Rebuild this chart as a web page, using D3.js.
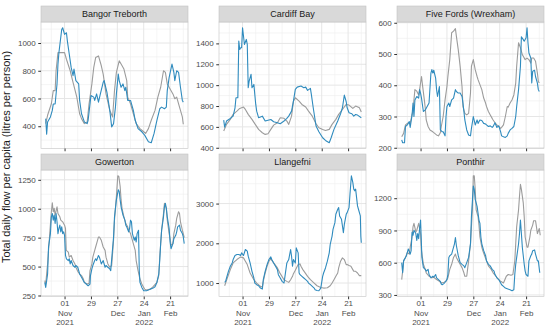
<!DOCTYPE html>
<html>
<head>
<meta charset="utf-8">
<script src="https://cdn.jsdelivr.net/npm/d3@7"></script>
<style>
  body { margin: 0; background: #fff; }
  text { font-family: "Liberation Sans", Arial, sans-serif; }
</style>
</head>
<body>
<svg id="chart" width="550" height="330"></svg>
<script>
// days are counted from 1 Nov 2021
const origin = new Date(2021, 10, 1);

const sites = ["Bangor Treborth", "Cardiff Bay", "Five Fords (Wrexham)", "Gowerton", "Llangefni", "Ponthir"];

// [day, litres per person]; blue = measured, grey = comparison series
const bangorBlue = [[-20,455],[-19,343],[-18,430],[-15,467],[-13,514],[-12,560],[-10,560],[-8,705],[-7,848],[-6,930],[-3,1098],[-2,1110],[0,1062],[2,1074],[3,1014],[5,919],[7,824],[9,764],[10,812],[12,729],[15,705],[16,586],[18,490],[21,431],[24,419],[25,443],[28,621],[31,610],[32,586],[34,633],[36,574],[38,633],[41,717],[42,729],[45,645],[48,514],[50,395],[52,419],[54,538],[55,633],[57,776],[58,729],[60,681],[62,705],[64,657],[65,681],[67,586],[70,586],[73,514],[75,443],[78,383],[82,360],[85,336],[89,288],[92,281],[95,348],[98,443],[101,526],[103,538],[106,526],[108,538],[109,657],[111,752],[114,848],[116,788],[117,729],[119,800],[121,788],[123,681],[125,586],[126,574]];
const bangorGrey = [[-20,419],[-18,479],[-14,562],[-12,657],[-10,657],[-9,800],[-7,931],[-3,931],[0,931],[2,883],[6,800],[9,717],[13,610],[16,490],[18,455],[21,419],[24,430],[26,562],[29,705],[31,824],[33,895],[36,907],[39,836],[41,776],[44,633],[48,514],[51,467],[53,657],[55,788],[58,871],[60,848],[63,812],[66,729],[67,610],[70,562],[73,490],[76,419],[80,383],[84,360],[86,348],[89,383],[92,443],[96,514],[99,610],[102,681],[105,800],[107,788],[109,705],[112,669],[115,633],[117,598],[119,610],[122,538],[125,467],[126,414]];

const cardiffBlue = [[-20,665],[-19,598],[-17,656],[-13,681],[-10,703],[-8,783],[-7,879],[-5,879],[-4,1422],[-3,1342],[-2,1358],[-1,1358],[0,1550],[2,1390],[4,1438],[5,1390],[6,975],[7,1039],[9,1103],[10,975],[12,1007],[14,815],[15,751],[17,688],[21,703],[24,656],[26,662],[30,671],[33,649],[37,640],[40,630],[44,656],[47,681],[49,703],[52,751],[54,847],[56,959],[58,981],[62,991],[65,975],[67,981],[69,950],[72,969],[73,911],[75,783],[78,608],[81,553],[85,496],[88,470],[92,448],[94,496],[97,576],[101,656],[104,726],[106,783],[108,905],[110,841],[111,783],[113,735],[116,726],[118,703],[120,719],[122,713],[126,688]];
const cardiffGrey = [[-20,560],[-17,624],[-13,672],[-10,720],[-6,751],[-3,777],[1,790],[3,767],[6,720],[10,672],[14,617],[17,576],[21,544],[24,528],[27,534],[30,576],[33,617],[37,640],[40,688],[44,682],[47,656],[49,624],[52,703],[54,847],[56,879],[60,847],[63,815],[67,790],[70,751],[74,703],[78,630],[81,592],[85,576],[88,566],[92,576],[95,624],[99,672],[102,720],[106,767],[110,815],[113,809],[117,777],[120,799],[124,783],[126,742]];

const fiveFordsBlue = [[-20,225],[-19,216],[-17,216],[-16,268],[-14,273],[-12,284],[-11,265],[-9,305],[-8,343],[-7,300],[-6,353],[-4,364],[-2,359],[-1,386],[0,375],[1,359],[3,316],[5,321],[7,332],[9,343],[11,439],[12,450],[13,439],[14,448],[16,423],[17,386],[18,364],[20,396],[21,257],[23,251],[24,251],[26,238],[27,300],[28,332],[30,343],[31,332],[33,353],[35,359],[37,386],[38,380],[40,375],[42,375],[44,364],[45,343],[47,289],[49,257],[51,241],[53,238],[54,262],[56,300],[58,273],[60,289],[61,278],[63,289],[65,287],[67,278],[69,276],[70,273],[72,268],[74,270],[76,265],[77,268],[79,280],[81,265],[83,270],[85,251],[86,238],[88,235],[90,233],[92,238],[93,246],[95,257],[97,262],[99,268],[101,300],[102,332],[104,386],[106,461],[107,555],[109,546],[110,541],[112,552],[113,584],[114,536],[115,503],[117,487],[118,407],[119,445],[121,448],[122,428],[124,407],[125,386],[126,380]];
const fiveFordsGrey = [[-20,235],[-18,246],[-16,273],[-13,280],[-11,278],[-8,321],[-6,386],[-4,381],[-2,369],[-1,386],[1,428],[2,402],[4,353],[5,327],[6,289],[8,268],[10,257],[13,251],[17,241],[19,238],[21,248],[22,268],[24,300],[26,353],[28,396],[29,428],[31,482],[33,568],[35,573],[37,581],[38,557],[40,514],[42,461],[44,396],[45,332],[47,310],[49,305],[51,310],[53,375],[54,461],[56,482],[58,450],[60,428],[61,418],[63,402],[65,386],[67,359],[69,343],[70,332],[72,316],[74,305],[76,294],[77,289],[79,280],[81,273],[83,268],[85,262],[86,265],[88,273],[90,300],[92,332],[93,330],[95,343],[97,353],[99,369],[101,407],[102,461],[104,536],[106,520],[108,498],[109,493],[111,482],[113,487],[115,482],[117,471],[118,487],[120,487],[122,477],[124,439],[125,412],[126,407]];

const gowertonBlue = [[-21,363],[-20,320],[-18,436],[-17,669],[-16,727],[-15,785],[-14,930],[-13,959],[-12,901],[-11,945],[-10,872],[-9,959],[-8,887],[-7,785],[-6,829],[-5,858],[-4,800],[-3,843],[-2,785],[-1,800],[0,770],[1,596],[2,567],[4,552],[5,567],[6,523],[7,552],[9,509],[11,494],[12,509],[14,494],[16,436],[18,407],[20,378],[21,363],[23,349],[25,334],[27,349],[27.5,422],[29,480],[30,509],[32,552],[33,567],[34,552],[36,596],[37,581],[39,523],[41,552],[43,494],[44,509],[46,494],[48,480],[49,465],[52,756],[53,930],[55,1076],[57,1163],[58,1148],[59,1076],[60,1017],[62,945],[64,901],[65,858],[66,843],[68,800],[69,829],[70,901],[71,887],[72,785],[74,727],[75,756],[76,712],[77,785],[78.5,814],[79.3,465],[80,363],[82,320],[84,291],[87,291],[89,297],[91,305],[94,314],[96,326],[98,363],[100,436],[101,552],[102,698],[103,814],[105,930],[106,1017],[107,1047],[108,1003],[109,930],[111,829],[112,712],[113,654],[115,698],[116,741],[118,770],[119,800],[120,843],[122,858],[123,814],[125,785],[126,756],[127,698]];
const gowertonGrey = [[-21,378],[-20,349],[-18,523],[-16,756],[-14,974],[-13,1052],[-12,974],[-11,1003],[-10,945],[-8,1017],[-7,959],[-5,930],[-4,901],[-2,887],[0,858],[1,829],[1.8,640],[4,625],[5,581],[7,596],[9,552],[11,523],[12,494],[14,459],[16,436],[18,422],[20,392],[21,363],[24,349],[26,355],[27,465],[29,523],[30,581],[32,640],[33,669],[35,727],[36,756],[37,756],[39,727],[41,669],[43,640],[44,581],[46,523],[48,494],[50,509],[52,727],[53,901],[55,1105],[56.5,1285],[57.6,1279],[59,1192],[60,1076],[61,1003],[63,930],[65,872],[67,843],[68,814],[70,785],[72,727],[75,640],[76,552],[78,465],[80,392],[82,349],[84,320],[85,305],[87,297],[91,305],[94,326],[98,363],[100,422],[101,581],[103,814],[105,959],[106,1047],[108,1003],[109,901],[111,785],[112,741],[113,683],[115,698],[116,785],[118,858],[119,916],[121,974],[122,959],[123,887],[125,814],[126,785],[127,750]];

const llangefniBlue = [[-19,1017],[-18,1042],[-17,1127],[-15,1295],[-13,1422],[-11,1506],[-10,1591],[-8,1692],[-6,1717],[-4,1717],[-2,1692],[-1,1760],[1,1692],[3,1844],[5,1802],[6,1675],[8,1506],[10,1295],[12,1127],[13,1000],[15,958],[17,932],[19,873],[21,848],[22,1084],[24,1295],[26,1464],[28,1591],[30,1658],[31,1591],[33,1506],[35,1422],[37,1338],[38,1211],[40,1127],[42,1042],[44,1000],[45,1169],[47,1506],[49,1591],[51,1844],[52,1675],[53,1422],[54,1591],[56,1506],[57,1886],[59,1760],[60,1253],[61,1211],[63,1169],[65,1127],[67,1084],[69,1042],[70,1000],[72,958],[74,916],[76,873],[77,831],[79,814],[81,806],[83,873],[85,1169],[86,1253],[88,1380],[90,1549],[92,1760],[93,1970],[95,2181],[96,2350],[98,2519],[99,2730],[101,2857],[102,2899],[103,2688],[105,2603],[106,2435],[107,2266],[108,2477],[109,2603],[110,2730],[111,2772],[113,2899],[114,3236],[115.5,3700],[117,3532],[118,3363],[119,3321],[120,3363],[122,2941],[123,2857],[125,2688],[125.5,2181],[126,2013]];
const llangefniGrey = [[-19,932],[-17,1068],[-13,1338],[-10,1506],[-6,1591],[-2,1658],[1,1633],[3,1549],[5,1464],[8,1253],[12,1084],[15,1000],[19,916],[21,899],[22,1042],[24,1253],[26,1422],[28,1549],[30,1608],[33,1506],[37,1380],[40,1236],[44,1084],[47,1042],[49,1017],[51,1084],[53,1169],[54,1236],[56,1321],[59,1464],[61,1481],[62,1422],[64,1338],[67,1236],[69,1169],[72,1084],[76,1000],[79,932],[83,890],[86,873],[90,882],[93,932],[95,1000],[97,1084],[99,1169],[101,1253],[102,1380],[104,1549],[106,1633],[108,1591],[110,1464],[111,1464],[113,1439],[115,1422],[117,1338],[118,1295],[120,1295],[122,1253],[124,1186],[126,1186]];

const ponthirBlue = [[-20,601],[-19,506],[-18,617],[-16,649],[-15,665],[-13,728],[-11,680],[-10,712],[-9,886],[-8,855],[-7,902],[-5,871],[-4,807],[-3,871],[-2,823],[-1,918],[0,997],[1.4,649],[3,554],[5,538],[6,522],[8,538],[9,490],[11,459],[13,474],[14,465],[16,490],[17,459],[19,443],[21,427],[22,402],[23,395],[25,408],[26,418],[28,443],[29,490],[30,649],[31,665],[33,680],[34,712],[36,776],[37,833],[38,760],[40,665],[42,601],[44,585],[46,570],[47,554],[49,601],[51,649],[53,776],[54,1029],[56,1314],[57,1282],[58,1187],[59,1156],[60,1124],[62,997],[63,966],[64,839],[65,776],[67,712],[69,665],[70,617],[72,585],[74,570],[76,538],[78,522],[79,490],[81,459],[83,443],[85,411],[86,395],[88,380],[90,364],[92,358],[95,348],[97,339],[99,348],[100,490],[101,585],[102,649],[104,776],[105,871],[106,997],[107,871],[108,744],[110,585],[111,522],[112,490],[114,474],[115,617],[117,665],[118,680],[119,712],[121,719],[122,680],[124,617],[125,617],[126.5,506]];
const ponthirGrey = [[-20,443],[-19,522],[-18,617],[-16,649],[-14,696],[-12,680],[-11,744],[-9,839],[-8,934],[-7,966],[-5,886],[-4,902],[-2,966],[-1,918],[0,871],[1,712],[3,585],[5,538],[6,506],[9,474],[12,459],[14,465],[17,443],[20,427],[22,411],[25,418],[27,427],[29,459],[31,538],[33,585],[35,649],[37,680],[38,649],[40,617],[42,585],[44,554],[46,506],[47,474],[49,474],[51,617],[53,776],[55,1092],[56,1409],[57,1409],[58,1282],[59,1092],[61,1029],[62,950],[63,839],[65,744],[66,712],[68,665],[70,617],[72,570],[75,538],[77,506],[80,474],[83,443],[85,427],[88,411],[91,474],[93,490],[96,484],[98,490],[100,617],[101,776],[102,934],[104,1092],[105,1219],[106,1330],[107,1282],[109,1156],[110,1029],[111,839],[113,744],[114,744],[116,839],[117,902],[119,950],[120,991],[122,991],[123,934],[124,871],[126,918],[127,855]];

const blueSeries = [bangorBlue, cardiffBlue, fiveFordsBlue, gowertonBlue, llangefniBlue, ponthirBlue];
const greySeries = [bangorGrey, cardiffGrey, fiveFordsGrey, gowertonGrey, llangefniGrey, ponthirGrey];

const yTicks = [
  [400, 600, 800, 1000],
  [400, 600, 800, 1000, 1200, 1400],
  [200, 300, 400, 500, 600],
  [250, 500, 750, 1000, 1250],
  [1000, 2000, 3000],
  [300, 600, 900, 1200]
];

const xTicks = ["2021-11-01", "2021-11-29", "2021-12-27", "2022-01-24", "2022-02-21"];
const xTickLabels = [["01", "Nov", "2021"], ["29"], ["27", "Dec"], ["24", "Jan", "2022"], ["21", "Feb"]];
const xMinor = ["2021-10-18", "2021-11-15", "2021-12-13", "2022-01-10", "2022-02-07", "2022-03-07"];
const xLimits = ["2021-10-07", "2022-03-12"];

const yTitle = "Total daily flow per capita (litres per person)";

// layout
const colX = [41, 219, 397];
const rowY = [22, 170];
const pw = 147, ph = 126.5, stripH = 16;
const blue = "#2f8bbe", grey = "#9c9c9c";
const tickFont = 8;

const parse = d3.timeParse("%Y-%m-%d");
const toDate = (d) => d3.timeHour.offset(origin, Math.round(d * 24));

const svg = d3.select("#chart");

const x = d3.scaleTime().domain(xLimits.map(parse)).range([0, pw]);

sites.forEach((site, i) => {
  const col = i % 3, row = Math.floor(i / 3);
  const g = svg.append("g").attr("transform", `translate(${colX[col]},${rowY[row]})`);

  const all = blueSeries[i].concat(greySeries[i]);
  const [lo, hi] = d3.extent(all, (d) => d[1]);
  const pad = (hi - lo) * 0.05;
  const y = d3.scaleLinear().domain([lo - pad, hi + pad]).range([ph, 0]);

  // minor y breaks halfway between the major ones
  const t = yTicks[i];
  const step = t[1] - t[0];
  const yMinor = [];
  for (let k = -1; k < t.length; k++) {
    const v = t[0] + step * (k + 0.5);
    if (v > y.domain()[0] && v < y.domain()[1]) yMinor.push(v);
  }

  g.append("rect").attr("width", pw).attr("height", ph).attr("fill", "#fff");

  g.append("g").selectAll("line").data(yMinor).join("line")
    .attr("x1", 0).attr("x2", pw)
    .attr("y1", (d) => y(d)).attr("y2", (d) => y(d))
    .attr("stroke", "#efefef").attr("stroke-width", 0.6);
  g.append("g").selectAll("line").data(xMinor.map(parse)).join("line")
    .attr("y1", 0).attr("y2", ph)
    .attr("x1", (d) => x(d)).attr("x2", (d) => x(d))
    .attr("stroke", "#efefef").attr("stroke-width", 0.6);
  g.append("g").selectAll("line").data(t).join("line")
    .attr("x1", 0).attr("x2", pw)
    .attr("y1", (d) => y(d)).attr("y2", (d) => y(d))
    .attr("stroke", "#e6e6e6").attr("stroke-width", 1);
  g.append("g").selectAll("line").data(xTicks.map(parse)).join("line")
    .attr("y1", 0).attr("y2", ph)
    .attr("x1", (d) => x(d)).attr("x2", (d) => x(d))
    .attr("stroke", "#e6e6e6").attr("stroke-width", 1);

  const line = d3.line()
    .x((d) => x(toDate(d[0])))
    .y((d) => y(d[1]));

  g.append("path").datum(greySeries[i])
    .attr("d", line).attr("fill", "none")
    .attr("stroke", grey).attr("stroke-width", 1.1).attr("stroke-linejoin", "round");
  g.append("path").datum(blueSeries[i])
    .attr("d", line).attr("fill", "none")
    .attr("stroke", blue).attr("stroke-width", 1.1).attr("stroke-linejoin", "round");

  g.append("rect").attr("width", pw).attr("height", ph)
    .attr("fill", "none").attr("stroke", "#c4c4c4").attr("stroke-width", 0.6);

  // strip
  g.append("rect").attr("y", -stripH).attr("width", pw).attr("height", stripH)
    .attr("fill", "#d9d9d9").attr("stroke", "#c4c4c4").attr("stroke-width", 0.6);
  g.append("text").attr("x", pw / 2).attr("y", -stripH / 2)
    .attr("text-anchor", "middle").attr("dominant-baseline", "central")
    .attr("font-size", 9).attr("fill", "#1a1a1a").text(site);

  // y axis
  const ya = g.append("g")
    .call(d3.axisLeft(y).tickValues(t).tickFormat(d3.format("d")).tickSize(2.75).tickPadding(2.5));
  ya.select(".domain").remove();
  ya.selectAll("line").attr("stroke", "#333");
  ya.selectAll("text").attr("font-size", tickFont).attr("fill", "#4d4d4d")
    .attr("font-family", "Liberation Sans, Arial, sans-serif");

  // x axis only under the bottom row
  const xa = g.append("g").attr("transform", `translate(0,${ph})`)
    .call(d3.axisBottom(x).tickValues(xTicks.map(parse)).tickSize(2.75).tickFormat(""));
  xa.select(".domain").remove();
  xa.selectAll("line").attr("stroke", "#333");
  if (row === 1) {
    xa.selectAll(".tick").each(function (d, k) {
      const txt = d3.select(this).append("text")
        .attr("text-anchor", "middle").attr("font-size", tickFont).attr("fill", "#4d4d4d")
        .attr("font-family", "Liberation Sans, Arial, sans-serif");
      xTickLabels[k].forEach((s, j) => {
        txt.append("tspan").attr("x", 0).attr("y", 9.8 + j * 9.2).text(s);
      });
    });
  }
});

svg.append("text")
  .attr("transform", `translate(10,157) rotate(-90)`)
  .attr("text-anchor", "middle").attr("font-size", 11).attr("fill", "#1a1a1a")
  .text(yTitle);
</script>
</body>
</html>
